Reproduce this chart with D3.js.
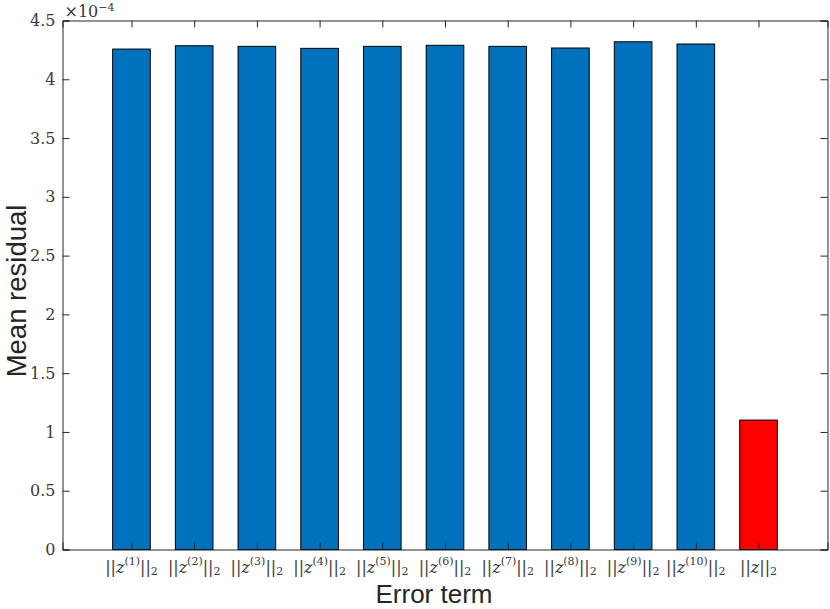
<!DOCTYPE html>
<html>
<head>
<meta charset="utf-8">
<script src="https://cdn.jsdelivr.net/npm/d3@7"></script>
<style>
  body { margin: 0; background: #fff; }
  .serif { font-family: "DejaVu Serif", serif; }
  .sans { font-family: "Liberation Sans", Arial, sans-serif; }
</style>
</head>
<body>
<div class="canvas"></div>
<script>
// data
const terms = ["1", "2", "3", "4", "5", "6", "7", "8", "9", "10", ""];
const residuals = [4.257e-4, 4.285e-4, 4.280e-4, 4.263e-4, 4.280e-4, 4.289e-4,
                   4.280e-4, 4.266e-4, 4.319e-4, 4.300e-4, 1.101e-4];
const barColors = ["#0072BD", "#0072BD", "#0072BD", "#0072BD", "#0072BD", "#0072BD",
                   "#0072BD", "#0072BD", "#0072BD", "#0072BD", "#FF0000"];
const yTicks = [0, 0.5e-4, 1e-4, 1.5e-4, 2e-4, 2.5e-4, 3e-4, 3.5e-4, 4e-4, 4.5e-4];

const width = 830, height = 609;
const margin = {top: 20.5, right: 2.5, bottom: 59.5, left: 62.5};
const graphWidth = width - margin.left - margin.right;
const graphHeight = height - margin.top - margin.bottom;

const axisColor = "#262626";
const textColor = "#3a3a3a";

const svg = d3.select(".canvas")
              .append("svg")
              .attr("width", width)
              .attr("height", height);

const graph = svg.append("g")
                 .attr("transform", `translate(${margin.left},${margin.top})`);

const idx = d3.range(1, terms.length + 1);

const x = d3.scaleLinear()
            .domain([-0.1, 12.1])
            .range([0, graphWidth]);

const y = d3.scaleLinear()
            .domain([0, 4.5e-4])
            .range([graphHeight, 0]);

const barW = x(0.6) - x(0);

// bars
graph.selectAll("rect.bar")
     .data(residuals)
     .enter()
     .append("rect")
     .attr("class", "bar")
     .attr("x", (d, i) => x(idx[i]) - barW / 2)
     .attr("y", d => y(d))
     .attr("width", barW)
     .attr("height", d => graphHeight - y(d))
     .attr("fill", (d, i) => barColors[i])
     .attr("stroke", "#000")
     .attr("stroke-width", 1);

// axes (ticks drawn inward, box on)
const tickLen = 7;
const yLeft = d3.axisLeft(y).tickValues(yTicks).tickSize(-tickLen).tickFormat("");
const yRight = d3.axisRight(y).tickValues(yTicks).tickSize(-tickLen).tickFormat("");
const xBottom = d3.axisBottom(x).tickValues(idx).tickSize(-tickLen).tickFormat("");
const xTop = d3.axisTop(x).tickValues(idx).tickSize(-tickLen).tickFormat("");

graph.append("g").call(yLeft);
graph.append("g").attr("transform", `translate(${graphWidth},0)`).call(yRight);
graph.append("g").attr("transform", `translate(0,${graphHeight})`).call(xBottom);
graph.append("g").call(xTop);

graph.selectAll(".domain, .tick line")
     .attr("stroke", axisColor)
     .attr("stroke-width", 1);

// y tick labels
graph.selectAll("text.ylab")
     .data(yTicks)
     .enter()
     .append("text")
     .attr("class", "ylab serif")
     .attr("x", -7)
     .attr("y", d => y(d))
     .attr("dy", "0.35em")
     .attr("text-anchor", "end")
     .attr("font-size", 16)
     .attr("fill", textColor)
     .text(d => d3.format("~g")(d / 1e-4));

// x tick labels: ||z^(k)||_2
const xl = graph.selectAll("text.xlab")
     .data(terms)
     .enter()
     .append("text")
     .attr("class", "xlab serif")
     .attr("x", (d, i) => x(idx[i]))
     .attr("y", graphHeight + 23)
     .attr("text-anchor", "middle")
     .attr("font-size", 16)
     .attr("fill", textColor);

xl.append("tspan").text("||");
xl.append("tspan").attr("font-style", "italic").text("z");
xl.filter(d => d !== "")
  .append("tspan").attr("font-size", 11).attr("dy", -8).text(d => `(${d})`);
xl.append("tspan").attr("dy", d => d !== "" ? 8 : 0).text("||");
xl.append("tspan").attr("font-size", 11).attr("dy", 2).text("2");

// exponent label
const ex = svg.append("text")
     .attr("class", "serif")
     .attr("x", margin.left + 2)
     .attr("y", 17)
     .attr("font-size", 16)
     .attr("fill", textColor);
ex.append("tspan").text("\u00d710");
ex.append("tspan").attr("font-size", 11).attr("dy", -6).text("\u22124");

// axis titles
svg.append("text")
   .attr("class", "sans")
   .attr("x", 434)
   .attr("y", height - 6)
   .attr("text-anchor", "middle")
   .attr("font-size", 26)
   .attr("fill", axisColor)
   .text("Error term");

svg.append("text")
   .attr("class", "sans")
   .attr("transform", "translate(26,291) rotate(-90)")
   .attr("text-anchor", "middle")
   .attr("font-size", 27.5)
   .attr("fill", axisColor)
   .text("Mean residual");
</script>
</body>
</html>
